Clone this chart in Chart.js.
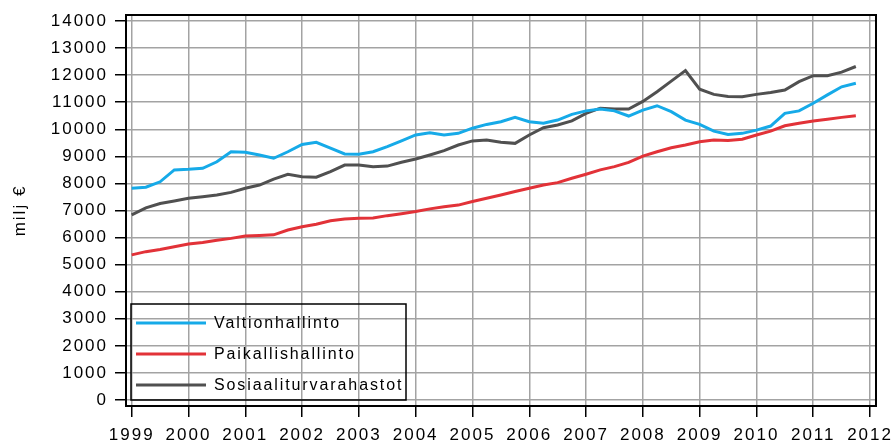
<!DOCTYPE html>
<html>
<head>
<meta charset="utf-8">
<script src="https://cdn.jsdelivr.net/npm/chart.js@4"></script>
<style>
  body { margin: 0; background: #fff; }
  #wrap { position: relative; width: 895px; height: 445px; }
</style>
</head>
<body>
<div id="wrap"><canvas id="chart" width="895" height="445"></canvas></div>
<script>
// quarterly figures, 1999Q1 .. 2011Q4 (milj €)
const years = [1999, 2000, 2001, 2002, 2003, 2004, 2005, 2006, 2007, 2008, 2009, 2010, 2011];
const yearTicks = [1999, 2000, 2001, 2002, 2003, 2004, 2005, 2006, 2007, 2008, 2009, 2010, 2011, 2012];
const valueTicks = [0, 1000, 2000, 3000, 4000, 5000, 6000, 7000, 8000, 9000, 10000, 11000, 12000, 13000, 14000];

const valtionhallinto = [
  7820, 7860, 8060, 8500,
  8520, 8560, 8800, 9170,
  9150, 9050, 8930, 9170,
  9440, 9520, 9300, 9090,
  9080, 9170, 9360, 9570,
  9790, 9870, 9790, 9850,
  10040, 10180, 10280, 10440,
  10280, 10220, 10340, 10550,
  10680, 10750, 10680, 10490,
  10710, 10870, 10650, 10340,
  10180, 9930, 9810, 9850,
  9970, 10120, 10590, 10680,
  10960, 11270, 11570, 11700
];
const paikallishallinto = [
  5360, 5480, 5560, 5660,
  5760, 5820, 5900, 5970,
  6060, 6080, 6100, 6280,
  6400, 6490, 6620, 6690,
  6710, 6720, 6810, 6880,
  6960, 7060, 7140, 7200,
  7330, 7450, 7570, 7700,
  7820, 7940, 8030, 8190,
  8340, 8500, 8620, 8780,
  9010, 9170, 9320, 9420,
  9540, 9600, 9590, 9630,
  9790, 9930, 10130, 10220,
  10310, 10370, 10440, 10500
];
const sosiaaliturvarahastot = [
  6840, 7100, 7260, 7350,
  7450, 7510, 7570, 7670,
  7820, 7940, 8160, 8340,
  8250, 8230, 8440, 8680,
  8680, 8620, 8640, 8780,
  8900, 9050, 9210, 9420,
  9570, 9600, 9520, 9480,
  9790, 10060, 10160, 10310,
  10590, 10780, 10750, 10750,
  11030, 11390, 11780, 12170,
  11480, 11290, 11210, 11200,
  11290, 11360, 11450, 11760,
  11980, 11980, 12110, 12320
];

const quarterX = [];
years.forEach(y => { for (let q = 0; q < 4; q++) quarterX.push(y + q / 4); });
const toPoints = arr => arr.map((v, i) => ({ x: quarterX[i], y: v }));

const FONT = "'Liberation Sans', Arial, sans-serif";

const framePlugin = {
  id: 'frame',
  beforeDraw(chart) {
    chart.ctx.letterSpacing = '2px';
  },
  afterDraw(chart) {
    const { ctx, chartArea: a } = chart;
    ctx.save();
    ctx.strokeStyle = '#000';
    ctx.lineWidth = 2;
    ctx.strokeRect(a.left, a.top, a.right - a.left, a.bottom - a.top);

    // legend box inside the plot
    const bx = 131, by = 304, bw = 275, bh = 96;
    ctx.lineWidth = 1.5;
    ctx.strokeRect(bx, by, bw, bh);
    ctx.font = '16px ' + FONT;
    ctx.letterSpacing = '1.9px';
    ctx.textBaseline = 'middle';
    ctx.fillStyle = '#000';
    chart.data.datasets.forEach((ds, i) => {
      const yy = 323 + i * 31;
      ctx.strokeStyle = ds.borderColor;
      ctx.lineWidth = 3;
      ctx.beginPath();
      ctx.moveTo(136, yy);
      ctx.lineTo(206, yy);
      ctx.stroke();
      ctx.fillText(ds.label, 214, yy + 1);
    });
    ctx.restore();
  }
};

new Chart(document.getElementById('chart'), {
  type: 'line',
  data: {
    datasets: [
      { label: 'Valtionhallinto', data: toPoints(valtionhallinto), borderColor: 'rgb(22,170,232)' },
      { label: 'Paikallishallinto', data: toPoints(paikallishallinto), borderColor: 'rgb(226,50,56)' },
      { label: 'Sosiaaliturvarahastot', data: toPoints(sosiaaliturvarahastot), borderColor: 'rgb(80,80,80)' }
    ]
  },
  options: {
    responsive: false,
    animation: false,
    layout: { padding: { top: 15, right: 19, left: 0, bottom: 0 }, autoPadding: false },
    elements: {
      point: { radius: 0 },
      line: { borderWidth: 3, tension: 0 }
    },
    plugins: {
      legend: { display: false },
      tooltip: { enabled: false }
    },
    scales: {
      x: {
        type: 'linear',
        min: 1998.9,
        max: 2012.105,
        afterBuildTicks: s => { s.ticks = yearTicks.map(v => ({ value: v })); },
        afterFit: s => { s.height = 39; s.paddingLeft = 0; s.paddingRight = 0; },
        grid: { color: '#a3a3a3', lineWidth: 1.5, tickColor: '#000', tickWidth: 1.5, tickLength: 11 },
        border: { color: '#000', width: 2 },
        ticks: {
          color: '#000',
          font: { family: FONT, size: 17 },
          padding: 8,
          maxRotation: 0,
          autoSkip: false,
          callback: v => String(v)
        }
      },
      y: {
        min: -222,
        max: 14222,
        afterBuildTicks: s => { s.ticks = valueTicks.map(v => ({ value: v })); },
        afterFit: s => { s.width = 126; s.paddingTop = 0; s.paddingBottom = 0; },
        grid: { color: '#a3a3a3', lineWidth: 1.5, tickColor: '#000', tickWidth: 1.5, tickLength: 11 },
        border: { color: '#000', width: 2 },
        title: {
          display: true,
          text: 'milj €',
          color: '#000',
          font: { family: FONT, size: 17 },
          padding: { top: 10, bottom: 0 }
        },
        ticks: {
          color: '#000',
          font: { family: FONT, size: 17 },
          padding: 7,
          autoSkip: false,
          callback: v => String(v)
        }
      }
    }
  },
  plugins: [framePlugin]
});
</script>
</body>
</html>
